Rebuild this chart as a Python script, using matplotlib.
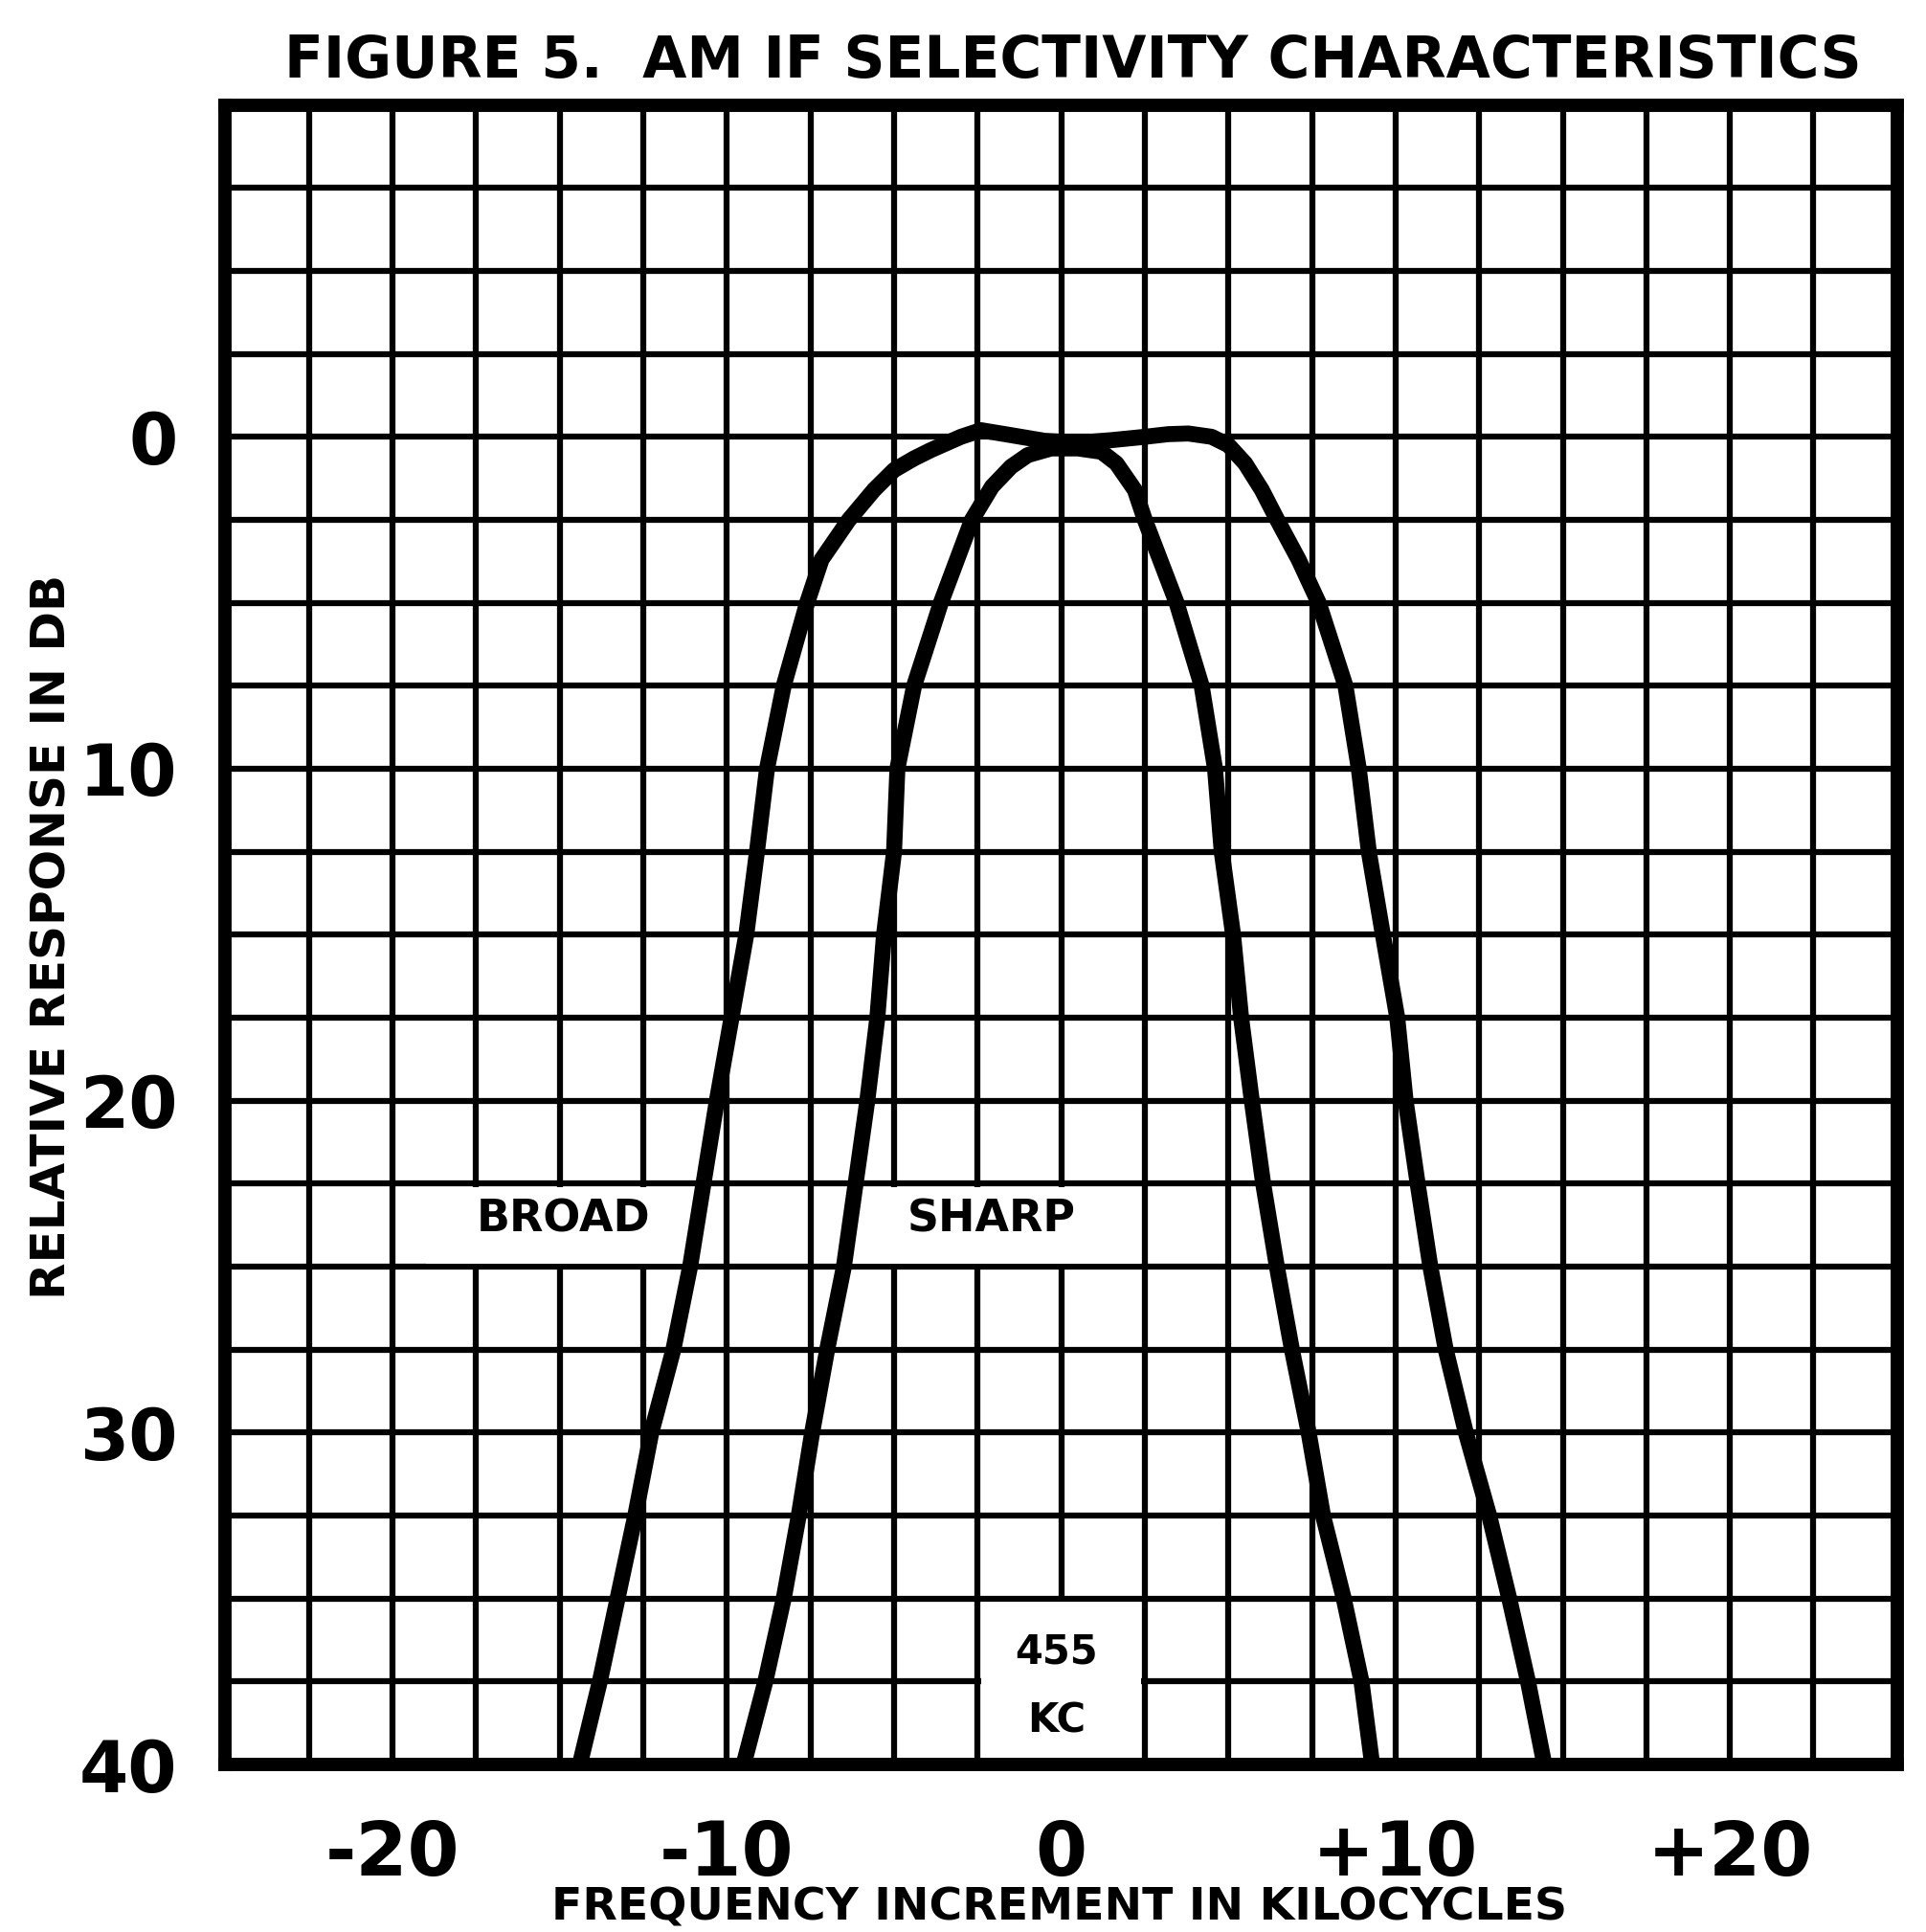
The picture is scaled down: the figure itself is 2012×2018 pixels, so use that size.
import matplotlib
matplotlib.use("Agg")
import matplotlib.pyplot as plt
from matplotlib.patches import Rectangle
import numpy as np

# curves: frequency increment (kc) vs relative response (db)
broad_kc = [-14.4, -13.8, -13.27, -12.74, -12.26, -11.6, -11.1, -10.7, -10.3, -9.86,
            -9.42, -9.1, -8.8, -8.3, -7.6, -7.17, -6.35, -5.6, -5.0, -4.4, -3.9, -3.0,
            -2.4, -1.5, -0.5, 0.5, 1.5, 2.5, 3.2, 3.8, 4.5, 5.0, 5.5, 6.0, 6.46, 7.1,
            7.7, 8.5, 8.9, 9.2, 9.62, 10.05, 10.3, 10.66, 11.04, 11.5, 12.1, 12.8,
            13.4, 13.96, 14.45]
broad_db = [40, 37.5, 35, 32.5, 30, 27.5, 25, 22.5, 20, 17.5,
            15, 12.5, 10, 7.5, 5, 3.7, 2.5, 1.6, 1.0, 0.65, 0.4, 0.0,
            -0.2, -0.05, 0.12, 0.18, 0.1, 0.0, -0.08, -0.1, 0.0, 0.25, 0.8, 1.6, 2.5, 3.7,
            5, 7.5, 10, 12.5, 15, 17.5, 20, 22.5, 25, 27.5, 30, 32.5,
            35, 37.5, 40]

sharp_kc = [-9.5, -8.85, -8.3, -7.85, -7.45, -7.0, -6.5, -6.15, -5.8, -5.5,
            -5.3, -5.0, -4.9, -4.4, -3.6, -2.67, -2.07, -1.5, -1.0, -0.3, 0.5, 1.2,
            1.65, 2.2, 2.5, 3.45, 4.2, 4.6, 4.8, 5.14, 5.38, 5.7, 6.04, 6.45, 6.9,
            7.4, 7.83, 8.45, 8.98, 9.3]
sharp_db = [40, 37.5, 35, 32.5, 30, 27.5, 25, 22.5, 20, 17.5,
            15, 12.5, 10, 7.5, 5, 2.5, 1.5, 0.9, 0.55, 0.35, 0.35, 0.45,
            0.8, 1.6, 2.5, 5, 7.5, 10, 12.5, 15, 17.5, 20, 22.5, 25, 27.5,
            30, 32.5, 35, 37.5, 40]

x_ticks = [-20, -10, 0, 10, 20]
x_labels = ["-20", "-10", "0", "+10", "+20"]
y_ticks = [0, 10, 20, 30, 40]
y_labels = ["0", "10", "20", "30", "40"]

fig = plt.figure(figsize=(20.12, 20.18), dpi=100)
ax = fig.add_axes([0.117, 0.0867, 0.868, 0.859])
ax.set_xlim(-25, 25)
ax.set_ylim(40, -10)

# 2.5 unit grid on both axes
ax.set_xticks(np.arange(-25, 25.1, 2.5), minor=True)
ax.set_yticks(np.arange(-10, 40.1, 2.5), minor=True)
ax.set_xticks(x_ticks)
ax.set_xticklabels(x_labels)
ax.set_yticks(y_ticks)
ax.set_yticklabels(y_labels)
ax.grid(which="both", color="black", linewidth=4.5)
ax.set_axisbelow(True)
ax.tick_params(which="both", length=0)
ax.tick_params(axis="y", pad=36)
ax.tick_params(axis="x", pad=40)
for lab in ax.get_xticklabels():
    lab.set_fontsize(56)
    lab.set_fontweight("bold")
for lab in ax.get_yticklabels():
    lab.set_fontsize(53)
    lab.set_fontweight("bold")

for sp in ax.spines.values():
    sp.set_linewidth(10)
    sp.set_zorder(5)

# white label boxes that break the grid
for (x0, x1, y0, y1) in [(-19.0, -10.9, 22.6, 24.9), (-6.4, 2.4, 22.6, 24.9),
                         (-2.4, 2.4, 35.1, 39.9)]:
    ax.add_patch(Rectangle((x0, y0), x1 - x0, y1 - y0, facecolor="white",
                           edgecolor="none", zorder=1))

ax.plot(broad_kc, broad_db, color="black", linewidth=12, solid_capstyle="round",
        solid_joinstyle="round", zorder=3)
ax.plot(sharp_kc, sharp_db, color="black", linewidth=12, solid_capstyle="round",
        solid_joinstyle="round", zorder=3)

ax.text(-14.9, 23.6, "BROAD", fontsize=33, fontweight="bold", ha="center", va="center", zorder=4)
ax.text(-2.1, 23.6, "SHARP", fontsize=33, fontweight="bold", ha="center", va="center", zorder=4)
ax.text(-0.15, 36.6, "455", fontsize=30, fontweight="bold", ha="center", va="center", zorder=4)
ax.text(-0.15, 38.7, "KC", fontsize=30, fontweight="bold", ha="center", va="center", zorder=4)

fig.text(0.557, 0.968, "FIGURE 5.  AM IF SELECTIVITY CHARACTERISTICS",
         fontsize=43, fontweight="bold", ha="center", va="center")
fig.text(0.550, 0.0125, "FREQUENCY INCREMENT IN KILOCYCLES",
         fontsize=34, fontweight="bold", ha="center", va="center")
fig.text(0.027, 0.515, "RELATIVE RESPONSE IN DB", rotation=90,
         fontsize=36, fontweight="bold", ha="center", va="center")

fig.savefig("out.png", dpi=100, facecolor="white")
